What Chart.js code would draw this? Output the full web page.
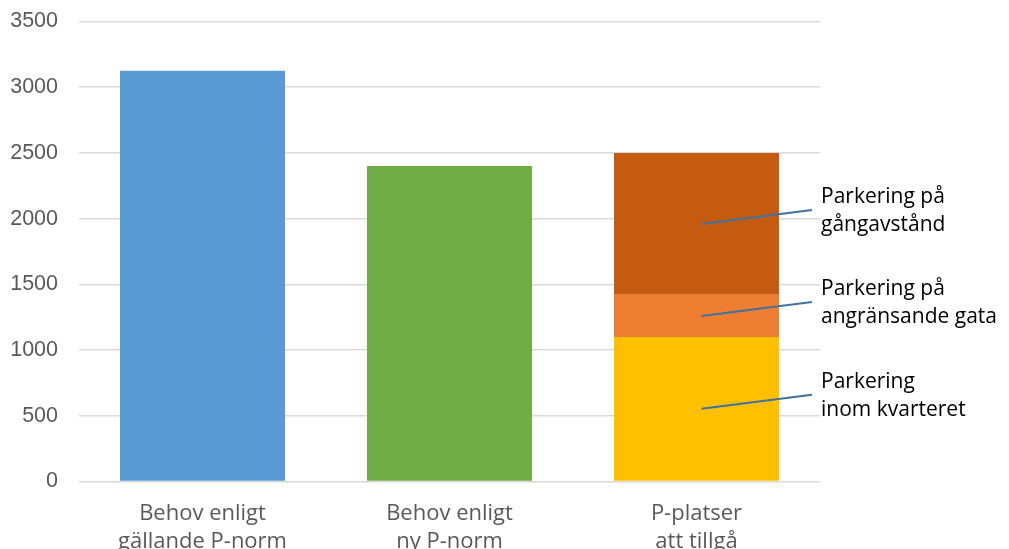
<!DOCTYPE html>
<html>
<head>
<meta charset="utf-8">
<script src="https://cdn.jsdelivr.net/npm/chart.js@4/dist/chart.umd.min.js"></script>
<style>
  html, body { margin: 0; padding: 0; background: #ffffff; }
  #wrap { width: 1009px; height: 549px; }
</style>
</head>
<body>
<div id="wrap"><canvas id="c" width="1009" height="549"></canvas></div>
<script>
// Categories (two-line labels)
const categories = [
  ['Behov enligt', 'gällande P-norm'],
  ['Behov enligt', 'ny P-norm'],
  ['P-platser', 'att tillgå']
];

// Parking demand per norm
const demand = [3125, 2400, null];

// Available parking, split by location (third column only)
const inomKvarteret = [null, null, 1100];
const angransandeGata = [null, null, 320];
const gangavstand = [null, null, 1080];

// Callout texts for the stacked segments
const segmentLabels = [
  ['Parkering', 'inom kvarteret'],
  ['Parkering på', 'angränsande gata'],
  ['Parkering på', 'gångavstånd']
];

const yTicks = { min: 0, max: 3500, step: 500 };

// Draws the leader lines and texts beside the stacked column
const calloutPlugin = {
  id: 'callouts',
  afterDatasetsDraw(chart) {
    const ctx = chart.ctx;
    const area = chart.chartArea;
    ctx.save();
    for (let i = 1; i <= 3; i++) {
      const meta = chart.getDatasetMeta(i);
      const bar = meta.data[2];
      if (!bar) continue;
      const midY = (bar.y + bar.base) / 2;
      const x0 = bar.x + 5;
      const x1 = area.right - 8;
      const textMid = midY - 13;
      ctx.strokeStyle = '#41719C';
      ctx.lineWidth = 2;
      ctx.beginPath();
      ctx.moveTo(x0, midY);
      ctx.lineTo(x1, textMid - 1);
      ctx.stroke();
      const lines = segmentLabels[i - 1];
      ctx.fillStyle = '#000000';
      ctx.font = '21px "Open Sans"';
      ctx.textAlign = 'left';
      ctx.textBaseline = 'middle';
      const lh = 28;
      lines.forEach((t, k) => {
        ctx.fillText(t, area.right + 1, textMid + (k - (lines.length - 1) / 2) * lh);
      });
    }
    ctx.restore();
  }
};

new Chart(document.getElementById('c'), {
  type: 'bar',
  data: {
    labels: categories,
    datasets: [
      { data: demand, backgroundColor: ['#5B9BD5', '#70AD47', '#5B9BD5'] },
      { data: inomKvarteret, backgroundColor: '#FFC000' },
      { data: angransandeGata, backgroundColor: '#ED7D31' },
      { data: gangavstand, backgroundColor: '#C55A11' }
    ]
  },
  options: {
    responsive: false,
    animation: false,
    devicePixelRatio: 1,
    layout: { padding: { top: 21.5, right: 189, bottom: 0, left: 0 } },
    plugins: { legend: { display: false }, tooltip: { enabled: false } },
    datasets: { bar: { categoryPercentage: 1, barPercentage: 0.668, borderWidth: 0 } },
    scales: {
      x: {
        stacked: true,
        grid: { display: false, drawTicks: false },
        border: { display: false },
        ticks: {
          color: '#595959',
          font: { family: '"Open Sans"', size: 22, lineHeight: 1.27 },
          padding: 18,
          maxRotation: 0,
          autoSkip: false
        },
        afterFit(scale) { scale.height = 67.5; }
      },
      y: {
        stacked: true,
        min: yTicks.min,
        max: yTicks.max,
        grid: { color: '#D9D9D9', lineWidth: 1.5, drawTicks: false },
        border: { display: false },
        ticks: {
          stepSize: yTicks.step,
          color: '#595959',
          font: { family: '"Liberation Sans"', size: 21.5 },
          padding: 21,
          callback: (v) => String(v)
        },
        afterFit(scale) {
          scale.width = 79;
          scale.paddingTop = 0;
          scale.paddingBottom = 0;
        }
      }
    }
  },
  plugins: [calloutPlugin]
});
</script>
</body>
</html>
